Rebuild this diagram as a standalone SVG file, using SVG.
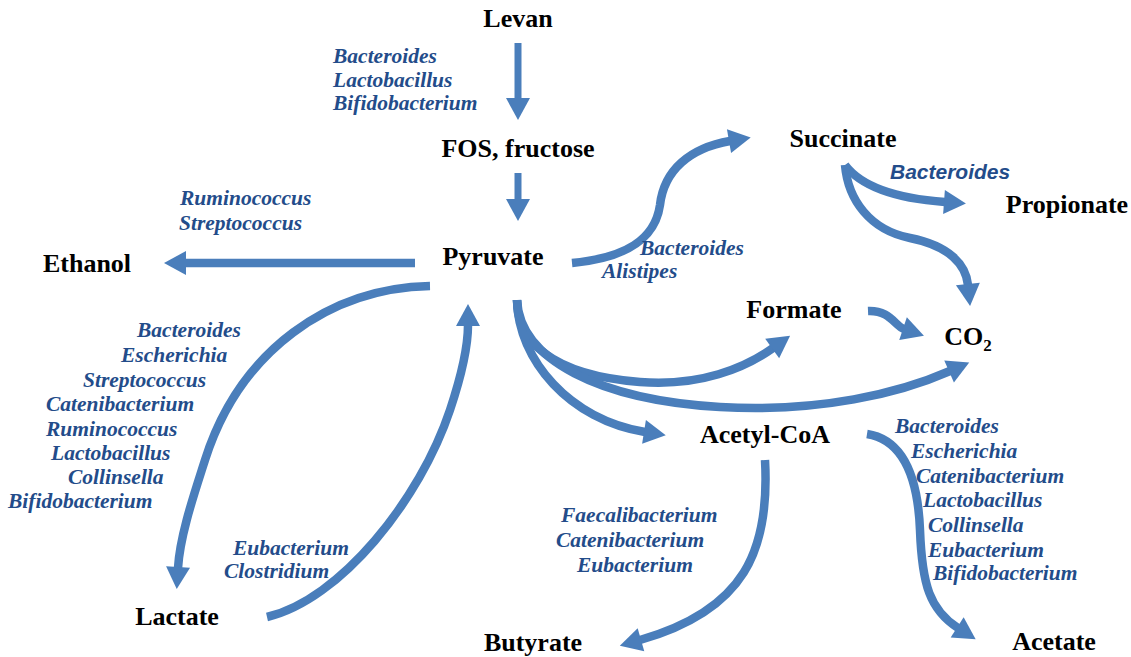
<svg xmlns="http://www.w3.org/2000/svg" width="1131" height="657" viewBox="0 0 1131 657">
<style>
.node{font-family:"Liberation Serif","Times New Roman",serif;font-weight:bold;font-size:26px;fill:#000;text-anchor:middle}
.lab{font-family:"Liberation Serif","Times New Roman",serif;font-weight:bold;font-style:italic;font-size:21.5px;fill:#234C8A}
.labs{font-family:"Liberation Sans",Arial,sans-serif;font-weight:bold;font-style:italic;font-size:21px;fill:#234C8A}
.c{fill:none;stroke:#4A7EBB;stroke-width:8.5;marker-end:url(#ah)}
.s{stroke-width:7}
</style>
<defs>
<marker id="ah" markerUnits="userSpaceOnUse" markerWidth="24" markerHeight="24" viewBox="0 0 24 24" refX="1" refY="12" orient="auto" overflow="visible">
<path d="M0,0 L22,12 L0,24 z" fill="#4A7EBB"/>
</marker>
</defs>
<rect width="1131" height="657" fill="#fff"/>
<g id="connectors">
<path class="c s" d="M518,43 L518,99"/>
<path class="c s" d="M518,173 L518,200"/>
<path class="c" d="M415,263 L185,263"/>
<path class="c" d="M430,286 C330,288 240,350 205,460 C194.5,493 180,535 178,568"/>
<path class="c" d="M267,617 C340,600 420,500 450,410 C460,380 468,350 468,325"/>
<path class="c" d="M572,263 C625,258 655,240 660,205 C664,170 690,148 730,141"/>
<path class="c" d="M845,165 C860,185 890,198 945,202"/>
<path class="c" d="M845,165 C848,200 870,230 910,238 C950,246 966,265 968,285"/>
<path class="c" d="M868,311 C890,310 895,326 904,329"/>
<path class="c" d="M517,300 C517,340 550,375 640,382 C700,386.7 745,368 773,348"/>
<path class="c" d="M517,300 C520,360 600,400 720,407 C820,412.8 900,393 950,371"/>
<path class="c" d="M517,300 C518,360 570,420 645,432"/>
<path class="c" d="M765,460 C770,550 745,610 640,640"/>
<path class="c" d="M867,434 C905,440 918,480 920,530 C922,585 930,610 958,628"/>
</g>
<g id="node-levan"><text class="node" x="518" y="27">Levan</text></g>
<g id="node-fos"><text class="node" x="518" y="157">FOS, fructose</text></g>
<g id="node-pyruvate"><text class="node" x="493" y="265">Pyruvate</text></g>
<g id="node-ethanol"><text class="node" x="87" y="272">Ethanol</text></g>
<g id="node-succinate"><text class="node" x="843" y="147">Succinate</text></g>
<g id="node-propionate"><text class="node" x="1067" y="213">Propionate</text></g>
<g id="node-formate"><text class="node" x="794" y="318">Formate</text></g>
<g id="node-co2"><text class="node" x="968" y="345">CO<tspan font-size="17" dy="6">2</tspan></text></g>
<g id="node-acetylcoa"><text class="node" x="765" y="443">Acetyl-CoA</text></g>
<g id="node-lactate"><text class="node" x="177" y="625">Lactate</text></g>
<g id="node-butyrate"><text class="node" x="533" y="651">Butyrate</text></g>
<g id="node-acetate"><text class="node" x="1054" y="650">Acetate</text></g>
<g id="labels">
<text class="lab" x="333" y="63">Bacteroides</text>
<text class="lab" x="333" y="87">Lactobacillus</text>
<text class="lab" x="333" y="110">Bifidobacterium</text>
<text class="lab" x="180" y="205">Ruminococcus</text>
<text class="lab" x="179" y="230">Streptococcus</text>
<text class="lab" x="137" y="337">Bacteroides</text>
<text class="lab" x="121" y="362">Escherichia</text>
<text class="lab" x="83" y="387">Streptococcus</text>
<text class="lab" x="46" y="411">Catenibacterium</text>
<text class="lab" x="46" y="436">Ruminococcus</text>
<text class="lab" x="51" y="460">Lactobacillus</text>
<text class="lab" x="68" y="484">Collinsella</text>
<text class="lab" x="8" y="508">Bifidobacterium</text>
<text class="lab" x="640" y="255">Bacteroides</text>
<text class="lab" x="602" y="278">Alistipes</text>
<text class="labs" x="890" y="179">Bacteroides</text>
<text class="lab" x="233" y="555">Eubacterium</text>
<text class="lab" x="224" y="578">Clostridium</text>
<text class="lab" x="561" y="522">Faecalibacterium</text>
<text class="lab" x="556" y="547">Catenibacterium</text>
<text class="lab" x="577" y="572">Eubacterium</text>
<text class="lab" x="895" y="433">Bacteroides</text>
<text class="lab" x="911" y="458">Escherichia</text>
<text class="lab" x="916" y="483">Catenibacterium</text>
<text class="lab" x="923" y="507">Lactobacillus</text>
<text class="lab" x="928" y="532">Collinsella</text>
<text class="lab" x="928" y="557">Eubacterium</text>
<text class="lab" x="933" y="580">Bifidobacterium</text>
</g>
</svg>
